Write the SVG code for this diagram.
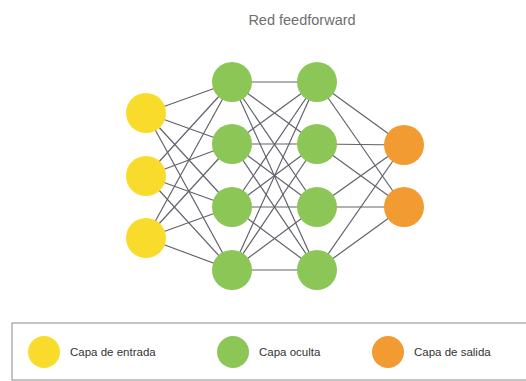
<svg xmlns="http://www.w3.org/2000/svg" width="526" height="381" viewBox="0 0 526 381">
<style>
text{font-family:"Liberation Sans",Arial,sans-serif}
.title{font-size:14.5px;fill:#6f6f6f}
.leg{font-size:11.5px;fill:#333}
.in{fill:#f9dc2b}
.hid{fill:#8cc657}
.out{fill:#f29b32}
#connectors line{stroke:#62626c;stroke-width:1.2}
</style>
<rect width="526" height="381" fill="#fff"/>
<text class="title" x="302" y="25" text-anchor="middle">Red feedforward</text>
<g id="connectors">
<line x1="146" y1="113" x2="232" y2="82"/><line x1="146" y1="113" x2="232" y2="144"/><line x1="146" y1="113" x2="232" y2="207"/><line x1="146" y1="113" x2="232" y2="270"/>
<line x1="146" y1="176" x2="232" y2="82"/><line x1="146" y1="176" x2="232" y2="144"/><line x1="146" y1="176" x2="232" y2="207"/><line x1="146" y1="176" x2="232" y2="270"/>
<line x1="146" y1="238" x2="232" y2="82"/><line x1="146" y1="238" x2="232" y2="144"/><line x1="146" y1="238" x2="232" y2="207"/><line x1="146" y1="238" x2="232" y2="270"/>
<line x1="232" y1="82" x2="317" y2="82"/><line x1="232" y1="82" x2="317" y2="144"/><line x1="232" y1="82" x2="317" y2="207"/><line x1="232" y1="82" x2="317" y2="270"/>
<line x1="232" y1="144" x2="317" y2="82"/><line x1="232" y1="144" x2="317" y2="144"/><line x1="232" y1="144" x2="317" y2="207"/><line x1="232" y1="144" x2="317" y2="270"/>
<line x1="232" y1="207" x2="317" y2="82"/><line x1="232" y1="207" x2="317" y2="144"/><line x1="232" y1="207" x2="317" y2="207"/><line x1="232" y1="207" x2="317" y2="270"/>
<line x1="232" y1="270" x2="317" y2="82"/><line x1="232" y1="270" x2="317" y2="144"/><line x1="232" y1="270" x2="317" y2="207"/><line x1="232" y1="270" x2="317" y2="270"/>
<line x1="317" y1="82" x2="404" y2="145"/><line x1="317" y1="82" x2="404" y2="207"/>
<line x1="317" y1="144" x2="404" y2="145"/><line x1="317" y1="144" x2="404" y2="207"/>
<line x1="317" y1="207" x2="404" y2="145"/><line x1="317" y1="207" x2="404" y2="207"/>
<line x1="317" y1="270" x2="404" y2="145"/><line x1="317" y1="270" x2="404" y2="207"/>
</g>
<g id="in1"><circle class="in" cx="146" cy="113" r="20"/></g>
<g id="in2"><circle class="in" cx="146" cy="176" r="20"/></g>
<g id="in3"><circle class="in" cx="146" cy="238" r="20"/></g>
<g id="h1a"><circle class="hid" cx="232" cy="82" r="20"/></g>
<g id="h1b"><circle class="hid" cx="232" cy="144" r="20"/></g>
<g id="h1c"><circle class="hid" cx="232" cy="207" r="20"/></g>
<g id="h1d"><circle class="hid" cx="232" cy="270" r="20"/></g>
<g id="h2a"><circle class="hid" cx="317" cy="82" r="20"/></g>
<g id="h2b"><circle class="hid" cx="317" cy="144" r="20"/></g>
<g id="h2c"><circle class="hid" cx="317" cy="207" r="20"/></g>
<g id="h2d"><circle class="hid" cx="317" cy="270" r="20"/></g>
<g id="out1"><circle class="out" cx="404" cy="145" r="20"/></g>
<g id="out2"><circle class="out" cx="404" cy="207" r="20"/></g>
<g id="legend">
<rect x="12" y="323" width="530" height="57" fill="#fff" stroke="#8a8a8a" stroke-width="1"/>
<circle class="in" cx="44" cy="352" r="16"/>
<text class="leg" x="70" y="356">Capa de entrada</text>
<circle class="hid" cx="233" cy="352" r="16"/>
<text class="leg" x="259" y="356">Capa oculta</text>
<circle class="out" cx="388" cy="352" r="16"/>
<text class="leg" x="414" y="356">Capa de salida</text>
</g>
</svg>
